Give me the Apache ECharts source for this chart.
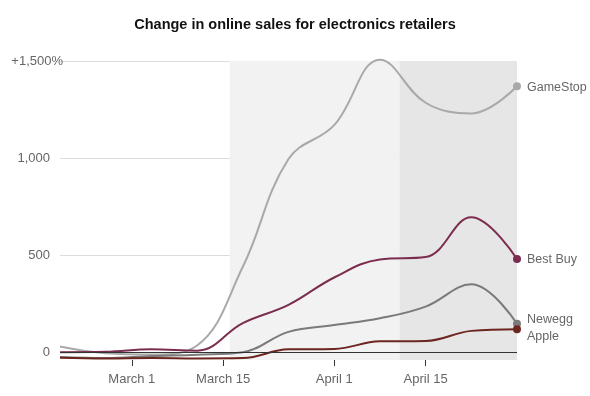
<!DOCTYPE html>
<html>
<head>
<meta charset="utf-8">
<script src="https://cdn.jsdelivr.net/npm/echarts@6/dist/echarts.min.js"></script>
<style>
  html, body { margin: 0; padding: 0; background: #fff; }
  #chart { width: 590px; height: 396px; }
</style>
</head>
<body>
<div id="chart"></div>
<script>
// weekly readings, % change in online sales
const weeks = ['2020-02-19', '2020-02-26', '2020-03-04', '2020-03-11', '2020-03-18', '2020-03-25',
    '2020-04-01', '2020-04-08', '2020-04-15', '2020-04-22', '2020-04-29'];
const gameStop = [30, -5, -12, 35, 440, 995, 1170, 1507, 1285, 1230, 1370];
const bestBuy = [0, 2, 15, 8, 150, 244, 385, 478, 490, 695, 480];
const newegg = [-25, -30, -20, -13, 0, 105, 140, 175, 235, 350, 147];
const apple = [-28, -32, -30, -32, -30, 15, 17, 56, 58, 110, 119];

const tickDates = ['2020-03-01', '2020-03-15', '2020-04-01', '2020-04-15'];
const tickLabels = ['March 1', 'March 15', 'April 1', 'April 15'];
const yTicks = [0, 500, 1000, 1500];
const shadePeriods = [['2020-03-16', '2020-04-11'], ['2020-04-11', '2020-04-29']];

const FONT = 'Liberation Sans, Arial, sans-serif';

// days since the first week, so the x axis is a plain value axis
function day(s) {
    let p = s.split('-');
    let t = Date.UTC(+p[0], +p[1] - 1, +p[2]);
    let q = weeks[0].split('-');
    let t0 = Date.UTC(+q[0], +q[1] - 1, +q[2]);
    return Math.round((t - t0) / 86400000);
}
const tickDays = tickDates.map(day);

function makeSeries(name, values, color, offset) {
    let last = values.length - 1;
    return {
        name: name,
        type: 'line',
        z: 3,
        clip: false,
        data: values.map((v, i) => [day(weeks[i]), v]),
        smooth: 0.4,
        symbol: 'circle',
        showSymbol: true,
        showAllSymbol: true,
        symbolSize: (val, params) => params.dataIndex === last ? 8 : 0,
        lineStyle: { color: color, width: 2 },
        itemStyle: { color: color },
        emphasis: { disabled: true },
        endLabel: {
            show: true,
            formatter: name,
            color: '#666',
            fontSize: 12.5,
            fontFamily: FONT,
            distance: 10,
            offset: offset
        }
    };
}

let chart = echarts.init(document.getElementById('chart'));
chart.setOption({
    animation: false,
    title: {
        text: 'Change in online sales for electronics retailers',
        left: 'center',
        top: 12,
        textStyle: {
            fontFamily: FONT,
            fontSize: 14.5,
            fontWeight: 'bold',
            color: '#121212'
        }
    },
    grid: {
        left: 60,
        right: 73,
        top: 61,
        bottom: 36
    },
    xAxis: {
        type: 'value',
        z: 1,
        min: 0,
        max: day(weeks[weeks.length - 1]),
        axisLine: { show: false, onZero: false },
        axisTick: {
            show: true,
            customValues: tickDays,
            length: 6,
            lineStyle: { color: '#333', width: 1 }
        },
        axisLabel: {
            customValues: tickDays,
            formatter: (value) => tickLabels[tickDays.indexOf(value)] || '',
            color: '#666',
            fontSize: 13,
            fontFamily: FONT,
            margin: 13
        },
        splitLine: { show: false }
    },
    yAxis: {
        type: 'value',
        z: 1,
        min: -40,
        max: 1500,
        axisLine: { show: false },
        axisTick: { show: false, customValues: yTicks },
        axisLabel: {
            customValues: yTicks,
            color: '#666',
            fontSize: 13,
            fontFamily: FONT,
            margin: -3,
            // the % sign of the top label hangs past the other numbers
            formatter: (value) => {
                if (value === 1500) return '{p|+1,500%}';
                return '{n|' + value.toLocaleString('en-US') + '}';
            },
            rich: {
                n: { color: '#666', fontSize: 13, fontFamily: FONT, padding: [0, 13, 0, 0] },
                p: { color: '#666', fontSize: 13, fontFamily: FONT }
            }
        },
        splitLine: {
            show: true,
            lineStyle: { color: '#dcdcdc', width: 1 }
        }
    },
    series: [
        {
            name: 'shading',
            type: 'line',
            z: 0,
            data: [],
            silent: true,
            markArea: {
                silent: true,
                data: [
                    [{ xAxis: day(shadePeriods[0][0]), itemStyle: { color: '#f2f2f2' } }, { xAxis: day(shadePeriods[0][1]) }],
                    [{ xAxis: day(shadePeriods[1][0]), itemStyle: { color: '#e6e6e6' } }, { xAxis: day(shadePeriods[1][1]) }]
                ]
            }
        },
        {
            name: 'zero',
            type: 'line',
            z: 2,
            data: [],
            silent: true,
            markLine: {
                silent: true,
                symbol: 'none',
                label: { show: false },
                lineStyle: { color: '#333', width: 1, type: 'solid' },
                data: [{ yAxis: 0 }]
            }
        },
        makeSeries('GameStop', gameStop, '#a9a9a9', [0, 1]),
        makeSeries('Best Buy', bestBuy, '#7b2d4f', [0, 1]),
        makeSeries('Newegg', newegg, '#7a7a7a', [0, -4]),
        makeSeries('Apple', apple, '#6d2520', [0, 7])
    ]
});
</script>
</body>
</html>
